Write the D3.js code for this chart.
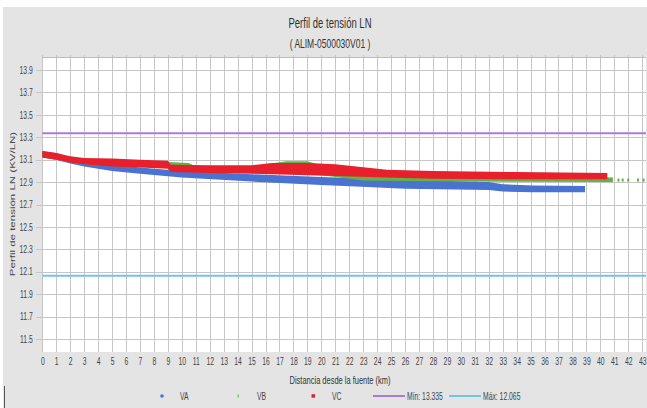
<!DOCTYPE html>
<html>
<head>
<meta charset="utf-8">
<script src="https://cdn.jsdelivr.net/npm/d3@7"></script>
<style>
    html, body { margin: 0; padding: 0; background: #fff; }
    svg { display: block; font-family: "Liberation Sans", Arial, sans-serif; }
    .grid line { stroke: #c6c6c6; stroke-width: 1; shape-rendering: crispEdges; }
    .grid path { display: none; }
    .grid text { fill: #444; font-size: 10px; }
</style>
</head>
<body>
<div id="chart"></div>
<script>

// distance (km), low and high voltage (kV) of each measured band
var vaBand = [
    [0, 13.12, 13.17], [1, 13.10, 13.16], [2, 13.065, 13.12], [3, 13.04, 13.10],
    [5, 13.00, 13.06], [7, 12.975, 13.03], [10, 12.94, 13.00], [15, 12.905, 12.97],
    [20, 12.875, 12.945], [23.7, 12.855, 12.93], [26, 12.84, 12.92], [32, 12.83, 12.90],
    [33, 12.815, 12.88], [35.2, 12.81, 12.87], [38.9, 12.81, 12.865]
];

var vbBand = [
    [0, 13.12, 13.17], [3, 13.06, 13.10], [9, 13.03, 13.08], [10.5, 13.00, 13.07],
    [11, 13.00, 13.04], [15, 12.98, 13.04], [17.5, 12.975, 13.085], [19, 12.97, 13.085],
    [20, 12.96, 13.05], [23, 12.915, 12.99], [30, 12.905, 12.96], [40.9, 12.90, 12.94]
];

var vbDots = [[41.3, 12.918], [41.6, 12.918], [42.0, 12.918], [42.7, 12.918], [43.1, 12.918]];

var vcBand = [
    [0, 13.12, 13.18], [1, 13.10, 13.16], [2, 13.075, 13.13], [3, 13.06, 13.115],
    [5, 13.04, 13.11], [7, 13.03, 13.10], [9, 13.02, 13.09], [9.2, 12.99, 13.055],
    [12, 12.98, 13.05], [15, 12.975, 13.05], [16.5, 12.97, 13.07], [19, 12.96, 13.07],
    [21, 12.955, 13.06], [24.7, 12.94, 13.01], [28, 12.93, 13.00], [34, 12.925, 12.99],
    [40.5, 12.925, 12.98]
];

var limitMin = 13.335;
var limitMax = 12.065;

var xTicks = d3.range(0, 44);
var yTicks = [11.5, 11.7, 11.9, 12.1, 12.3, 12.5, 12.7, 12.9, 13.1, 13.3, 13.5, 13.7, 13.9];

var squeeze = 0.68;   // the reference text is horizontally condensed


class ProfileChart {

    constructor() {

        this._width = 647;
        this._height = 408;
        this._plot = { left: 42.3, right: 646, top: 57, bottom: 352 };
        this._colors = {
            va: '#4a73d1',
            vb: '#62b246',
            vc: '#e8202c',
            min: '#ad7ad8',
            max: '#72c3ea'
        };
    }


    renderTo(selector) {

        var p = this._plot;
        var c = this._colors;

        var x = d3.scaleLinear().domain([0, 43]).range([p.left, 642.2]);
        var y = d3.scaleLinear().domain([11.5, 13.9]).range([339, 70]);

        var svg = d3.select(selector).append('svg')
            .attr('width', this._width)
            .attr('height', this._height);

        svg.append('rect')
            .attr('x', 3).attr('y', 7)
            .attr('width', this._width - 3).attr('height', this._height - 7)
            .attr('fill', '#e4e4e4');

        svg.append('line')
            .attr('x1', 4.5).attr('x2', 4.5).attr('y1', 386).attr('y2', 408)
            .attr('stroke', '#555');

        svg.append('rect')
            .attr('x', p.left).attr('y', p.top)
            .attr('width', p.right - p.left).attr('height', p.bottom - p.top)
            .attr('fill', '#fff');

        this._text(svg, 330, 28, 'Perfil de tensión LN', 14, '#333');
        this._text(svg, 330, 47.5, '( ALIM-0500030V01 )', 12.5, '#333');

        // horizontal grid + y labels
        var yAxis = svg.append('g')
            .attr('class', 'grid')
            .attr('transform', 'translate(' + p.left + ',0)')
            .call(d3.axisLeft(y)
                .tickValues(yTicks)
                .tickFormat(d3.format('.1f'))
                .tickSize(-(p.right - p.left))
            );

        yAxis.selectAll('.tick line').attr('x1', -6.5);
        yAxis.selectAll('.tick text')
            .attr('x', -9.5 / squeeze)
            .attr('transform', 'scale(' + squeeze + ',1)');

        // vertical grid + x labels
        var xAxis = svg.append('g')
            .attr('class', 'grid')
            .attr('transform', 'translate(0,' + p.bottom + ')')
            .call(d3.axisBottom(x)
                .tickValues(xTicks)
                .tickSize(-(p.bottom - p.top + 2))
                .tickPadding(6)
            );

        xAxis.selectAll('.tick text')
            .attr('transform', 'scale(' + squeeze + ',1)');

        svg.append('line')
            .attr('x1', p.left).attr('x2', p.right)
            .attr('y1', p.top + 0.5).attr('y2', p.top + 0.5)
            .attr('stroke', '#bdbdbd');

        var area = d3.area()
            .x(d => x(d[0]))
            .y0(d => y(d[1]))
            .y1(d => y(d[2]));

        svg.append('path').datum(vaBand).attr('d', area).attr('fill', c.va);
        svg.append('path').datum(vbBand).attr('d', area).attr('fill', c.vb);

        svg.selectAll('rect.vb-dot')
            .data(vbDots)
            .enter()
            .append('rect')
            .attr('class', 'vb-dot')
            .attr('x', d => x(d[0]) - 1)
            .attr('y', d => y(d[1]) - 1.5)
            .attr('width', 2)
            .attr('height', 3)
            .attr('fill', c.vb);

        svg.append('path').datum(vcBand).attr('d', area).attr('fill', c.vc);

        // limit lines
        svg.selectAll('line.limit')
            .data([[limitMin, c.min], [limitMax, c.max]])
            .enter()
            .append('line')
            .attr('class', 'limit')
            .attr('x1', p.left).attr('x2', p.right)
            .attr('y1', d => y(d[0])).attr('y2', d => y(d[0]))
            .attr('stroke', d => d[1])
            .attr('stroke-width', 2);

        // axis titles
        this._text(svg, 340, 383.5, 'Distancia desde la fuente (km)', 11, '#333');

        svg.append('text')
            .attr('transform', 'translate(15,204) scale(' + squeeze + ',1) rotate(-90)')
            .attr('text-anchor', 'middle')
            .attr('font-size', 11.5)
            .attr('fill', '#444')
            .text('Perfil de tensión LN (KV/LN)');

        this._legend(svg);

        return this;
    }


    _legend(svg) {

        var c = this._colors;
        var ly = 396;

        svg.append('circle').attr('cx', 162).attr('cy', ly).attr('r', 1.8).attr('fill', c.va);
        svg.append('rect').attr('x', 237.5).attr('y', ly - 1.5).attr('width', 1.5).attr('height', 3)
            .attr('fill', c.vb).attr('opacity', 0.7);
        svg.append('rect').attr('x', 311.5).attr('y', ly - 1.8).attr('width', 3.5).attr('height', 3.5)
            .attr('fill', c.vc);

        svg.append('line').attr('x1', 373).attr('x2', 405).attr('y1', ly).attr('y2', ly)
            .attr('stroke', c.min).attr('stroke-width', 2);
        svg.append('line').attr('x1', 449).attr('x2', 481).attr('y1', ly).attr('y2', ly)
            .attr('stroke', c.max).attr('stroke-width', 2);

        var labels = [[180, 'VA'], [257, 'VB'], [332, 'VC'],
            [407, 'Mín: ' + limitMin], [483, 'Máx: ' + limitMax]];

        labels.forEach(function(l) {
            this._text(svg, l[0], ly + 3.5, l[1], 10, '#444', 'start');
        }.bind(this));
    }


    _text(svg, x, y, str, size, color, anchor) {

        return svg.append('text')
            .attr('transform', 'translate(' + x + ',' + y + ') scale(' + squeeze + ',1)')
            .attr('text-anchor', anchor || 'middle')
            .attr('font-size', size)
            .attr('fill', color)
            .text(str);
    }
}


new ProfileChart().renderTo('#chart');

</script>
</body>
</html>
